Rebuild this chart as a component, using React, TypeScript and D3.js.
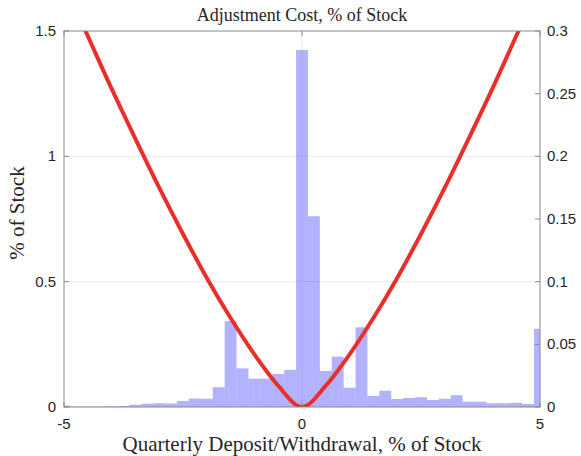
import React from 'react';
import * as d3 from 'd3';

// histogram: share of deposits/withdrawals (% of stock), bins of 0.25 centred on -5..5
const binWidth = 0.25;
const binShares = [
  0.006, 0.002, 0.002, 0.002, 0.003, 0.004, 0.009, 0.013, 0.015, 0.014,
  0.024, 0.034, 0.033, 0.079, 0.343, 0.154, 0.113, 0.113, 0.132, 0.148,
  1.424, 0.761, 0.144, 0.201, 0.077, 0.318, 0.044, 0.065, 0.032, 0.036,
  0.039, 0.028, 0.033, 0.047, 0.021, 0.021, 0.015, 0.015, 0.017, 0.012,
  0.312
];

// adjustment cost curve (right axis)
const costX = [-5, -4.5, -4, -3.5, -3, -2.5, -2, -1.5, -1, -0.5, 0, 0.5, 1, 1.5, 2, 2.5, 3, 3.5, 4, 4.5, 5];
const costY = [
  0.338, 0.296, 0.254, 0.214, 0.175, 0.138, 0.103, 0.071, 0.042, 0.017, 0,
  0.017, 0.042, 0.071, 0.103, 0.138, 0.175, 0.214, 0.254, 0.296, 0.338
];

const xTicks = [-5, 0, 5];
const leftTicks = [0, 0.5, 1, 1.5];
const rightTicks = [0, 0.05, 0.1, 0.15, 0.2, 0.25, 0.3];

const W = 581;
const H = 456;
const m = { left: 64, right: 41, top: 31, bottom: 49 };

const App = () => {
  const x = d3.scaleLinear().domain([-5, 5]).range([m.left, W - m.right]);
  const yL = d3.scaleLinear().domain([0, 1.5]).range([H - m.bottom, m.top]);
  const yR = d3.scaleLinear().domain([0, 0.3]).range([H - m.bottom, m.top]);

  const x0 = m.left;
  const x1 = W - m.right;
  const y0 = H - m.bottom;
  const y1 = m.top;

  const bins = binShares.map((v, i) => {
    const c = -5 + i * binWidth;
    return { lo: Math.max(-5, c - binWidth / 2), hi: Math.min(5, c + binWidth / 2), v };
  });

  const costLine = d3
    .line<number>()
    .x((d, i) => x(costX[i]))
    .y(d => yR(d))
    .curve(d3.curveMonotoneX);

  const axisColor = '#8a8a8a';
  const gridColor = '#ebebeb';
  const textColor = '#262626';
  const tickFont = 'Liberation Sans, Arial, sans-serif';
  const serif = 'Liberation Serif, Times New Roman, serif';

  return (
    <svg
      width={W}
      height={H}
      style={{ position: 'absolute', left: 0, top: 0, background: '#fff' }}
    >
      <defs>
        <clipPath id="plotArea">
          <rect x={x0} y={y1} width={x1 - x0} height={y0 - y1} />
        </clipPath>
      </defs>

      {/* grid */}
      <g stroke={gridColor} strokeWidth={1}>
        {leftTicks.filter(t => t > 0 && t < 1.5).map(t => (
          <line key={'gy' + t} x1={x0} x2={x1} y1={yL(t)} y2={yL(t)} />
        ))}
        {xTicks.filter(t => t > -5 && t < 5).map(t => (
          <line key={'gx' + t} x1={x(t)} x2={x(t)} y1={y1} y2={y0} />
        ))}
      </g>

      {/* histogram */}
      <g fill="rgb(0,0,255)" fillOpacity={0.3}>
        {bins.map((b, i) => (
          <rect
            key={'b' + i}
            x={x(b.lo)}
            width={x(b.hi) - x(b.lo)}
            y={yL(b.v)}
            height={yL(0) - yL(b.v)}
          />
        ))}
      </g>

      {/* cost curve */}
      <path
        d={costLine(costY) || ''}
        fill="none"
        stroke="#e8302a"
        strokeWidth={4}
        strokeLinejoin="round"
        clipPath="url(#plotArea)"
      />

      {/* box + ticks */}
      <rect x={x0} y={y1} width={x1 - x0} height={y0 - y1} fill="none" stroke={axisColor} strokeWidth={1} />
      <g stroke={axisColor} strokeWidth={1}>
        {xTicks.map(t => (
          <g key={'xt' + t}>
            <line x1={x(t)} x2={x(t)} y1={y0} y2={y0 - 5} />
            <line x1={x(t)} x2={x(t)} y1={y1} y2={y1 + 5} />
          </g>
        ))}
        {leftTicks.map(t => (
          <line key={'lt' + t} x1={x0} x2={x0 + 5} y1={yL(t)} y2={yL(t)} />
        ))}
        {rightTicks.map(t => (
          <line key={'rt' + t} x1={x1} x2={x1 - 5} y1={yR(t)} y2={yR(t)} />
        ))}
      </g>

      {/* tick labels */}
      <g fill={textColor} fontFamily={tickFont} fontSize={15}>
        {xTicks.map(t => (
          <text key={'xl' + t} x={x(t)} y={y0 + 22} textAnchor="middle">
            {t}
          </text>
        ))}
        {leftTicks.map(t => (
          <text key={'ll' + t} x={x0 - 8} y={yL(t) + 5} textAnchor="end">
            {t}
          </text>
        ))}
        {rightTicks.map(t => (
          <text key={'rl' + t} x={x1 + 7} y={yR(t) + 5} textAnchor="start">
            {t}
          </text>
        ))}
      </g>

      {/* titles */}
      <g fill={textColor} fontFamily={serif}>
        <text x={(x0 + x1) / 2} y={21} textAnchor="middle" fontSize={18}>
          Adjustment Cost, % of Stock
        </text>
        <text x={(x0 + x1) / 2} y={451} textAnchor="middle" fontSize={21}>
          Quarterly Deposit/Withdrawal, % of Stock
        </text>
        <text
          transform={`translate(24, ${(y0 + y1) / 2 - 6}) rotate(-90)`}
          textAnchor="middle"
          fontSize={21}
        >
          % of Stock
        </text>
      </g>
    </svg>
  );
};

export default App;
